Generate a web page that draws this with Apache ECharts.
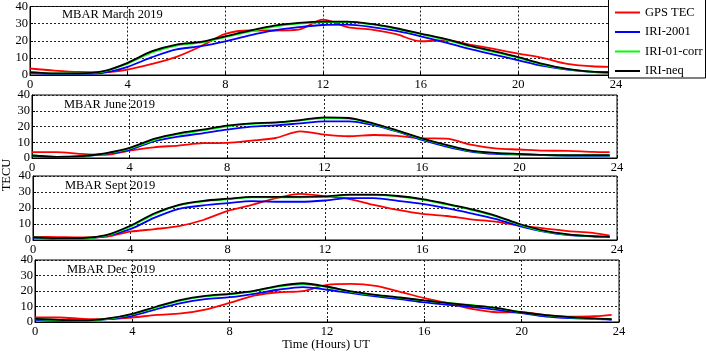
<!DOCTYPE html>
<html>
<head>
<meta charset="UTF-8">
<title>MBAR TEC 2019</title>
<script src="https://cdn.jsdelivr.net/npm/echarts@6/dist/echarts.min.js"></script>
<style>
  body { margin: 0; padding: 0; background: #fff; overflow: hidden; }
  #chart { width: 706px; height: 355px; }
</style>
</head>
<body>
<div id="chart"></div>
<script>
var hours = [0,1,2,3,4,5,6,7,8,9,10,11,12,13,14,15,16,17,18,19,20,21,22,23,23.7];
var seriesNames = ['GPS TEC', 'IRI-2001', 'IRI-01-corr', 'IRI-neq'];
var panelTitles = ['MBAR March 2019', 'MBAR June 2019', 'MBAR Sept 2019', 'MBAR Dec 2019'];
var xTicks = [0, 4, 8, 12, 16, 20, 24];
var yTicks = [0, 10, 20, 30, 40];

// March
var gpsMar  = [3.8,2.6,1.8,1.7,3.2,6.5,10.6,16.8,24.0,26.0,26.0,26.5,32.3,28.0,26.5,23.8,19.7,20.3,17.8,15.2,12.5,10.0,6.5,5.1,4.8];
var iriMar  = [1.3,0.7,0.7,1.3,4.8,10.4,14.9,16.8,19.7,23.2,26.1,27.9,29.2,29.4,28.0,25.7,22.6,19.1,15.2,11.9,8.6,5.3,3.2,1.8,1.3];
var corrMar = [1.7,0.9,0.9,2.0,6.6,13.2,17.2,18.9,22.1,25.4,28.3,30.0,30.8,30.9,29.5,27.0,23.8,20.6,16.8,13.5,10.0,6.1,3.4,1.9,1.6];
var neqMar  = [1.7,0.9,0.9,2.2,7.1,13.9,17.8,19.3,22.6,25.9,28.8,30.4,31.2,31.2,29.8,27.3,24.2,21.1,17.2,13.9,10.4,6.5,3.6,2.0,1.7];
// June
var gpsJun  = [3.7,3.7,2.6,2.0,4.7,6.8,7.9,9.4,9.6,11.0,12.7,16.9,14.8,13.8,14.6,14.0,12.5,12.3,8.5,6.1,5.4,4.7,4.5,3.9,3.7];
var iriJun  = [1.2,0.7,0.9,2.6,5.2,10.6,13.6,15.7,18.0,19.9,20.7,22.0,23.3,23.3,20.9,16.7,11.5,7.3,4.1,2.6,2.2,1.8,1.4,1.4,1.4];
var corrJun = [1.6,0.7,1.1,2.8,5.9,11.4,15.1,17.5,20.1,21.7,22.3,23.8,25.4,25.0,21.6,17.0,12.2,8.0,4.5,3.1,2.5,1.9,1.7,1.7,1.7];
var neqJun  = [1.6,0.7,1.2,3.0,6.4,12.1,15.7,18.0,20.5,22.0,22.6,24.1,25.8,25.4,22.0,17.4,12.5,8.3,4.7,3.3,2.6,2.0,1.8,1.8,1.8];
// September
var gpsSep  = [2.0,1.8,1.6,2.0,5.2,6.8,8.7,12.5,18.2,22.0,26.2,28.8,27.3,25.6,22.0,18.8,16.3,15.0,12.9,11.5,8.9,7.3,5.6,4.5,2.8];
var iriSep  = [1.4,0.9,0.9,2.6,6.8,14.0,19.5,21.6,23.0,24.3,23.9,23.9,24.7,26.2,26.2,24.5,22.6,19.9,16.7,13.2,8.7,5.2,3.1,2.2,2.0];
var corrSep = [1.8,1.1,1.1,2.8,8.4,16.2,21.6,24.1,25.4,26.6,26.7,26.7,27.0,28.0,28.0,27.2,25.2,22.2,18.9,14.9,9.6,5.5,3.3,2.3,1.9];
var neqSep  = [1.8,1.2,1.2,3.0,8.9,16.7,22.0,24.5,25.8,27.0,27.0,27.0,27.3,28.3,28.3,27.5,25.6,22.6,19.3,15.3,10.0,5.8,3.5,2.4,2.0];
// December
var gpsDec  = [2.9,2.9,2.0,1.8,2.9,4.6,5.5,8.0,12.3,17.0,19.2,19.9,24.0,24.6,23.3,19.5,15.4,12.0,8.3,6.3,6.3,4.5,3.4,3.7,4.6];
var iriDec  = [1.4,0.8,0.8,1.8,4.0,8.3,12.2,14.7,16.0,18.2,20.8,22.5,20.8,18.6,16.5,14.7,12.6,11.1,9.6,7.8,5.7,3.5,2.5,2.0,1.4];
var corrDec = [1.8,1.2,0.9,2.1,4.9,9.5,13.8,16.5,17.8,19.8,22.8,24.3,22.5,19.5,17.3,15.6,13.8,12.3,10.8,9.0,6.2,4.3,3.0,2.2,1.8];
var neqDec  = [2.0,1.4,1.0,2.3,5.3,10.0,14.3,16.9,18.2,20.1,23.3,25.0,22.9,19.7,17.5,15.8,13.9,12.2,10.6,8.9,6.3,4.4,3.1,2.3,1.8];

var panels = [
  [gpsMar, iriMar, corrMar, neqMar],
  [gpsJun, iriJun, corrJun, neqJun],
  [gpsSep, iriSep, corrSep, neqSep],
  [gpsDec, iriDec, corrDec, neqDec]
];
var colors = ['#ff0000', '#0000ff', '#00ff00', '#000000'];
var font = "'Liberation Serif', 'Times New Roman', serif";
var fs = 12.5;

// plot boxes
var boxes = [
  { left: 30, top: 5,   width: 586, height: 70 },
  { left: 32, top: 95,  width: 585, height: 63 },
  { left: 33, top: 176, width: 584, height: 64 },
  { left: 35, top: 260, width: 584, height: 62 }
];

var grids = [], xAxes = [], yAxes = [], series = [], titles = [];
boxes.forEach(function (b, i) {
  grids.push({ left: b.left, top: b.top, width: b.width, height: b.height,
    show: true, borderColor: '#000', borderWidth: 1, containLabel: false });
  xAxes.push({
    type: 'value', gridIndex: i, min: 0, max: 24, interval: 4,
    axisLine: { show: true, lineStyle: { color: '#000', width: 1 } },
    axisTick: { show: true, inside: true, length: 3, lineStyle: { color: '#000' } },
    axisLabel: { color: '#000', fontSize: fs, fontFamily: font, margin: 3,
      formatter: function (v) { return xTicks.indexOf(v) >= 0 ? String(v) : ''; } },
    splitLine: { show: true, lineStyle: { color: '#222', type: [2, 2], width: 1 } }
  });
  yAxes.push({
    type: 'value', gridIndex: i, min: 0, max: 40, interval: 10,
    axisLine: { show: true, lineStyle: { color: '#000', width: 1 } },
    axisTick: { show: true, inside: true, length: 3, lineStyle: { color: '#000' } },
    axisLabel: { color: '#000', fontSize: fs, fontFamily: font, margin: 2,
      formatter: function (v) { return yTicks.indexOf(v) >= 0 ? String(v) : ''; } },
    splitLine: { show: true, lineStyle: { color: '#222', type: [2, 2], width: 1 } }
  });
  panels[i].forEach(function (vals, k) {
    series.push({
      name: seriesNames[k], type: 'line', xAxisIndex: i, yAxisIndex: i,
      data: hours.map(function (h, j) { return [h, vals[j]]; }),
      smooth: 0.3, symbol: 'none', lineStyle: { color: colors[k], width: 1.8 },
      itemStyle: { color: colors[k] }, z: 2 + k
    });
  });
  titles.push({ text: panelTitles[i], left: b.left + 32, top: b.top + 3, padding: 0,
    textStyle: { fontSize: fs, fontWeight: 'normal', color: '#000', fontFamily: font } });
});

var chart = echarts.init(document.getElementById('chart'));
chart.setOption({
  animation: false,
  backgroundColor: '#fff',
  title: titles,
  grid: grids,
  xAxis: xAxes,
  yAxis: yAxes,
  legend: {
    data: seriesNames, orient: 'vertical', left: 615, top: 6, z: 110, padding: 0,
    icon: 'rect', itemWidth: 25, itemHeight: 2, itemGap: 6.5,
    textStyle: { fontSize: fs, color: '#000', fontFamily: font }
  },
  graphic: [
    { type: 'rect', z: 100, shape: { x: 608.5, y: -1, width: 97, height: 79 },
      style: { fill: '#fff', stroke: '#000', lineWidth: 1 } },
    { type: 'text', z: 100, x: 7, y: 175, rotation: Math.PI / 2,
      style: { text: 'TECU', fontSize: fs, fontFamily: font, fill: '#000',
        textAlign: 'center', textVerticalAlign: 'middle' } },
    { type: 'text', z: 100, x: 326, y: 345,
      style: { text: 'Time (Hours) UT', fontSize: fs, fontFamily: font, fill: '#000',
        textAlign: 'center', textVerticalAlign: 'middle' } }
  ],
  series: series
});
</script>
</body>
</html>
